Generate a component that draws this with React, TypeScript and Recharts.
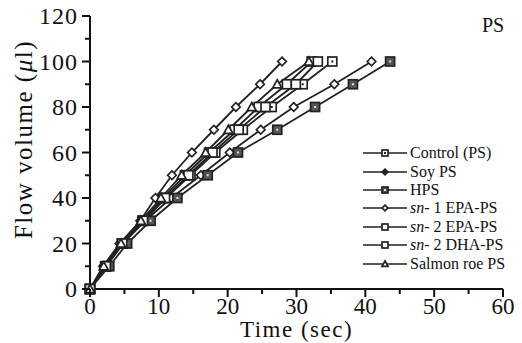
import { Label, Line, LineChart, XAxis, YAxis } from "recharts";

const volumes = [0, 10, 20, 30, 40, 50, 60, 70, 80, 90, 100];

const controlPS = [0, 2.4, 4.8, 7.8, 11.0, 14.6, 18.2, 22.2, 26.4, 30.9, 35.2];
const soyPS = [0, 2.3, 4.8, 8.0, 11.8, 16.1, 20.3, 24.8, 29.6, 35.5, 40.9];
const hps = [0, 2.8, 5.4, 8.8, 12.7, 17.1, 21.5, 27.2, 32.7, 38.2, 43.6];
const sn1EPA = [0, 1.9, 4.3, 7.3, 9.5, 11.9, 14.8, 18.0, 21.2, 24.7, 27.9];
const sn2EPA = [0, 2.2, 4.6, 7.6, 10.6, 13.8, 17.3, 21.0, 24.5, 28.6, 32.2];
const sn2DHA = [0, 2.3, 4.7, 7.7, 10.9, 14.3, 17.8, 21.6, 25.5, 29.9, 33.1];
const salmonRoe = [0, 2.0, 4.5, 7.4, 10.3, 13.3, 16.8, 20.1, 23.5, 27.2, 31.8];

const xTicks = [0, 5, 10, 15, 20, 25, 30, 35, 40, 45, 50, 55, 60];
const yTicks = [0, 10, 20, 30, 40, 50, 60, 70, 80, 90, 100, 110, 120];

const FONT = "'Liberation Serif', 'DejaVu Serif', serif";

type Shape = "sqDot" | "sq" | "sqFill" | "diamondFill" | "diamond" | "tri";

const series: { name: string; italic?: string; values: number[]; shape: Shape }[] = [
  { name: "Control (PS)", values: controlPS, shape: "sqDot" },
  { name: "Soy PS", values: soyPS, shape: "diamondFill" },
  { name: "HPS", values: hps, shape: "sqFill" },
  { name: " 1 EPA-PS", italic: "sn-", values: sn1EPA, shape: "diamond" },
  { name: " 2 EPA-PS", italic: "sn-", values: sn2EPA, shape: "sq" },
  { name: " 2 DHA-PS", italic: "sn-", values: sn2DHA, shape: "sq" },
  { name: "Salmon roe PS", values: salmonRoe, shape: "tri" },
];

// small legend markers show soy filled; on the plot both diamond series look open
function marker(shape: Shape, cx: number, cy: number, s: number, key?: string, solid = false) {
  const h = s / 2;
  if (shape === "sqDot" || shape === "sq" || shape === "sqFill") {
    return (
      <g key={key}>
        <rect
          x={cx - h}
          y={cy - h}
          width={s}
          height={s}
          fill={shape === "sqFill" ? "#555" : "#fff"}
          stroke="#222"
          strokeWidth={1.7}
        />
        {shape !== "sq" && (
          <rect x={cx - 1} y={cy - 1} width={2} height={2} fill={shape === "sqFill" ? "#ddd" : "#222"} />
        )}
      </g>
    );
  }
  if (shape === "tri") {
    return (
      <polygon
        key={key}
        points={`${cx},${cy - h} ${cx + h},${cy + h * 0.8} ${cx - h},${cy + h * 0.8}`}
        fill="#fff"
        stroke="#222"
        strokeWidth={1.7}
      />
    );
  }
  const r = h * 0.95;
  return (
    <polygon
      key={key}
      points={`${cx},${cy - r} ${cx + r},${cy} ${cx},${cy + r} ${cx - r},${cy}`}
      fill={solid && shape === "diamondFill" ? "#222" : "#fff"}
      stroke="#222"
      strokeWidth={1.7}
    />
  );
}

const YTick = (props: any) => {
  const { x, y, payload } = props;
  const major = payload.value % 20 === 0;
  return (
    <g>
      <line x1={x} x2={x - (major ? 8 : 5)} y1={y} y2={y} stroke="#111" strokeWidth={2} />
      {major && (
        <text x={x - 12} y={y + 8} textAnchor="end" fontSize={24} letterSpacing={1} fontFamily={FONT} fill="#111">
          {payload.value}
        </text>
      )}
    </g>
  );
};

const XTick = (props: any) => {
  const { x, y, payload } = props;
  const major = payload.value % 10 === 0;
  return (
    <g>
      <line x1={x} x2={x} y1={y} y2={y + (major ? 8 : 5)} stroke="#111" strokeWidth={2} />
      {major && (
        <text x={x} y={y + 25} textAnchor="middle" fontSize={23} fontFamily={FONT} fill="#111">
          {payload.value}
        </text>
      )}
    </g>
  );
};

const LegendBox = () => (
  <div
    style={{
      position: "absolute",
      left: 362,
      top: 144,
      fontFamily: FONT,
      fontSize: 16,
      color: "#111",
      lineHeight: 1,
    }}
  >
    {series.map((s) => (
      <div key={s.name} style={{ display: "flex", alignItems: "center", height: 18.4 }}>
        <svg width={46} height={12} style={{ marginRight: 2 }}>
          <line x1={1} x2={45} y1={6} y2={6} stroke="#222" strokeWidth={1.5} />
          {marker(s.shape, 23, 6, 6, undefined, true)}
        </svg>
        <span>
          {s.italic && <i>{s.italic}</i>}
          {s.name}
        </span>
      </div>
    ))}
  </div>
);

export default function App() {
  return (
    <div style={{ position: "absolute", left: 0, top: 0, width: 522, height: 343, background: "#fff" }}>
      <LineChart width={522} height={343} margin={{ top: 16, right: 19, bottom: 24, left: 30 }}>
        <XAxis
          type="number"
          dataKey="t"
          domain={[0, 60]}
          ticks={xTicks}
          interval={0}
          tickSize={0}
          tickMargin={0}
          tick={<XTick />}
          height={30}
          stroke="#111"
          strokeWidth={2}
        >
          <Label
            content={({ viewBox }: any) => (
              <text
                x={viewBox.x + viewBox.width / 2}
                y={viewBox.y + 48}
                textAnchor="middle"
                fontSize={23}
                letterSpacing={1.5}
                fontFamily={FONT}
                fill="#111"
              >
                Time  (sec)
              </text>
            )}
          />
        </XAxis>
        <YAxis
          type="number"
          domain={[0, 120]}
          ticks={yTicks}
          interval={0}
          tickSize={0}
          tickMargin={0}
          tick={<YTick />}
          width={60}
          stroke="#111"
          strokeWidth={2}
        >
          <Label
            content={({ viewBox }: any) => {
              const cx = viewBox.x + 2;
              const cy = viewBox.y + viewBox.height / 2 - 13;
              return (
                <text
                  x={cx}
                  y={cy}
                  transform={`rotate(-90 ${cx} ${cy})`}
                  textAnchor="middle"
                  fontSize={25}
                  letterSpacing={1.5}
                  fontFamily={FONT}
                  fill="#111"
                >
                  Flow volume  (<tspan fontStyle="italic">μ</tspan>l)
                </text>
              );
            }}
          />
        </YAxis>
        {series.map((s) => (
          <Line
            key={s.name}
            data={s.values.map((t, i) => ({ t, v: volumes[i] }))}
            dataKey="v"
            name={s.name}
            type="linear"
            stroke="#222"
            strokeWidth={1.8}
            isAnimationActive={false}
            dot={(p: any) => marker(s.shape, p.cx, p.cy, 9, `${s.name}-${p.index}`)}
          />
        ))}
      </LineChart>
      <LegendBox />
      <div style={{ position: "absolute", left: 482, top: 14, fontFamily: FONT, fontSize: 20, color: "#111" }}>PS</div>
    </div>
  );
}
